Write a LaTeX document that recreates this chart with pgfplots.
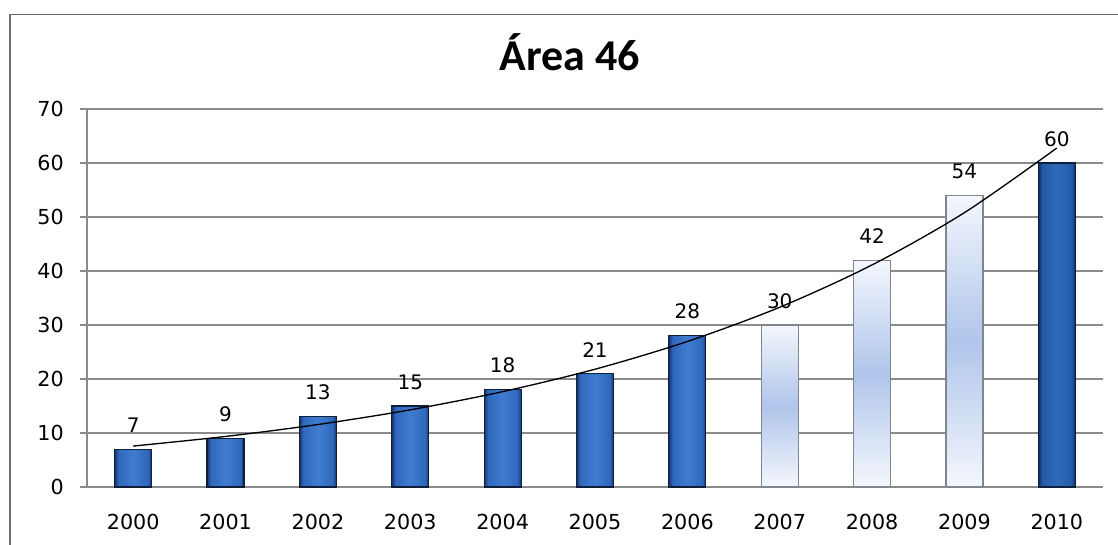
\documentclass[border=0pt]{standalone}
\usepackage{fontspec}
\setmainfont{DejaVu Sans}
\newfontfamily\titlefont{Carlito}
\usepackage{pgfplots}
\pgfplotsset{compat=1.18}

\definecolor{gridgray}{HTML}{8A8A8A}
\definecolor{framegray}{HTML}{6E6E6E}
\definecolor{bluedge}{HTML}{16336A}
\definecolor{bluebody}{HTML}{2F68BC}
\definecolor{bluemid}{HTML}{3F7CCF}
\definecolor{blueline}{HTML}{0F1E3A}
\definecolor{darkedge}{HTML}{112A55}
\definecolor{darkbody}{HTML}{245AA8}
\definecolor{darkmid}{HTML}{2F6AB9}
\definecolor{lightend}{HTML}{F4F7FD}
\definecolor{lightmid}{HTML}{AFC5EA}
\definecolor{lightline}{HTML}{80858F}

% cylinder-like horizontal shadings; the bar spans 25bp..75bp
\pgfdeclarehorizontalshading{barblue}{100bp}{color(0bp)=(bluedge); color(25bp)=(bluedge);
  color(30bp)=(bluebody); color(50bp)=(bluemid); color(70bp)=(bluebody);
  color(75bp)=(bluedge); color(100bp)=(bluedge)}
\pgfdeclarehorizontalshading{bardark}{100bp}{color(0bp)=(darkedge); color(25bp)=(darkedge);
  color(30bp)=(darkbody); color(50bp)=(darkmid); color(70bp)=(darkbody);
  color(75bp)=(darkedge); color(100bp)=(darkedge)}

\pgfplotsset{
  barbase/.style={ybar, bar width=27.75pt, bar shift=0pt, line width=0.9pt,
    nodes near coords,
    nodes near coords style={font=\fontsize{15}{17}\selectfont, text=black,
      inner sep=0pt, anchor=south, yshift=12pt}},
  bluebar/.style={barbase, draw=blueline, shading=barblue},
  lightbar/.style={barbase, draw=lightline,
    top color=lightend, bottom color=lightend, middle color=lightmid},
  darkbar/.style={barbase, draw=blueline, shading=bardark},
}

\begin{document}
\begin{tikzpicture}[x=0.75pt,y=0.75pt]
\clip (0,0) rectangle (1118,544);
% chart frame
\draw[framegray, line width=1.4pt] (10,-30) rectangle (1150,529.5);
% title
\node[anchor=base, inner sep=0pt, font=\titlefont\bfseries\fontsize{33}{38}\selectfont] at (570,473) {Área 46};

\begin{axis}[
  at={(65.25pt,42.75pt)}, anchor=south west,
  scale only axis, width=762pt, height=283.5pt,
  xmin=-0.5, xmax=10.5, ymin=0, ymax=70,
  axis lines=left, axis line style={-, gridgray, line width=1pt},
  ytick={0,10,...,70},
  xtick={0,...,10},
  xticklabels={2000,2001,2002,2003,2004,2005,2006,2007,2008,2009,2010},
  tick align=outside,
  major tick length=5.25pt,
  tick style={gridgray, line width=1pt},
  x tick style={draw=none},
  extra x ticks={-0.5,0.5,...,10.5},
  extra x tick labels={},
  extra x tick style={grid=none, tick style={draw=gridgray, line width=1pt}, major tick length=5.25pt},
  ymajorgrids,
  major grid style={gridgray, line width=1pt},
  ticklabel style={font=\fontsize{15.5}{18}\selectfont, text=black},
  /pgf/number format/assume math mode=true,
  yticklabel style={inner sep=0pt, xshift=-12pt},
  xticklabel style={inner sep=0pt, yshift=-15pt},
  clip=false,
]
% observed values, 2000-2006
\addplot[bluebar] coordinates {(0,7)};
\addplot[bluebar] coordinates {(1,9)};
\addplot[bluebar] coordinates {(2,13)};
\addplot[bluebar] coordinates {(3,15)};
\addplot[bluebar] coordinates {(4,18)};
\addplot[bluebar] coordinates {(5,21)};
\addplot[bluebar] coordinates {(6,28)};
% 2007-2009
\addplot[lightbar] coordinates {(7,30)};
\addplot[lightbar] coordinates {(8,42)};
\addplot[lightbar] coordinates {(9,54)};
% 2010
\addplot[darkbar] coordinates {(10,60)};
% exponential trend line
\addplot[black, line width=1pt, smooth, mark=none]
  coordinates {(0,7.58) (1,9.36) (2,11.57) (3,14.29) (4,17.66) (5,21.81)
               (6,26.95) (7,33.29) (8,41.13) (9,50.81) (10,62.77)};
\end{axis}
\end{tikzpicture}
\end{document}
